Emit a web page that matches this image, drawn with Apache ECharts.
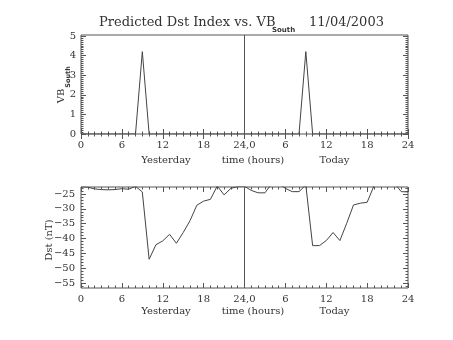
<!DOCTYPE html>
<html><head><meta charset="utf-8">
<script src="https://cdn.jsdelivr.net/npm/echarts@6/dist/echarts.min.js"></script>
<style>html,body{margin:0;padding:0;background:#fff}#c{width:453px;height:340px}</style>
</head><body><div id="c"></div>
<script>
// ---- data ----
const hours = [0,1,2,3,4,5,6,7,8,9,10,11,12,13,14,15,16,17,18,19,20,21,22,23,24,
  25,26,27,28,29,30,31,32,33,34,35,36,37,38,39,40,41,42,43,44,45,46,47,48];
const vbSouth = [0,0,0,0,0,0,0,0,0,4.2,0,0,0,0,0,0,0,0,0,0,0,0,0,0,0,
  0,0,0,0,0,0,0,0,4.2,0,0,0,0,0,0,0,0,0,0,0,0,0,0,0];
const dst = [-22.6,-22.7,-23.3,-23.5,-23.6,-23.5,-23.2,-23.4,-22.4,-24.3,-47.0,-42.1,-40.8,-38.6,-41.6,-38.0,-34.0,-28.8,-27.4,-26.8,-22.3,-25.3,-23.1,-22.5,-22.4,
  -23.8,-24.6,-24.6,-21.5,-21.5,-23.1,-24.2,-24.2,-22.0,-42.4,-42.4,-40.7,-38.0,-40.7,-34.9,-28.7,-28.1,-27.8,-22.3,-21.0,-21.0,-21.3,-24.2,-24.3];
const xTickLabels = ['0','6','12','18','24,0','6','12','18','24'];
const vbTicks = [0,1,2,3,4,5];
const dstTicks = [-55,-50,-45,-40,-35,-30,-25];
const titleMain = 'Predicted Dst Index vs. VB';
const titleSub = 'South';
const titleDate = '11/04/2003';
const xNameLeft = 'Yesterday', xNameMid = 'time (hours)', xNameRight = 'Today';
const dividerHour = 24;

// ---- helpers ----
function minorVals(lo, hi, step){ const a=[]; for(let v=lo; v<=hi+1e-9; v+=step){ a.push(+v.toFixed(4)); } return a; }
const FONT = 'DejaVu Serif';
const INK = '#333';
const LINE = '#555';

const chart = echarts.init(document.getElementById('c'), null, {renderer:'canvas'});

function xAxes(gridIndex, pos, showLabel){
  return {
    type:'value', gridIndex, position:pos, min:0, max:48, interval:6,
    axisLine:{show:false}, splitLine:{show:false},
    axisTick:{show:true, inside:true, length:5, lineStyle:{color:LINE}},
    minorTick:{show:true, splitNumber:6, length:2.5, lineStyle:{color:LINE}},
    axisLabel:{show:showLabel, margin:6, fontFamily:FONT, fontSize:10, color:INK,
      formatter:v=>xTickLabels[Math.round(v/6)]}
  };
}
function yAxes(gridIndex, pos, min, max, major, minor, showLabel, margin){
  return [{
    type:'value', gridIndex, position:pos, min, max,
    axisLine:{show:false}, splitLine:{show:false},
    axisTick:{show:true, inside:true, length:5, customValues:major, lineStyle:{color:LINE}},
    axisLabel:{show:showLabel, customValues:major, margin, fontFamily:FONT, fontSize:10, color:INK,
      formatter:v=>String(v).replace('-','\u2212')}
  },{
    type:'value', gridIndex, position:pos, min, max,
    axisLine:{show:false}, splitLine:{show:false},
    axisTick:{show:true, inside:true, length:2.5, customValues:minor, lineStyle:{color:LINE}},
    axisLabel:{show:false}
  }];
}

const mark = {silent:true, symbol:['none','none'], label:{show:false},
  lineStyle:{color:LINE, type:'solid', width:1}, data:[{xAxis:dividerHour}]};

const option = {
  animation:false,
  backgroundColor:'#fff',
  grid:[
    {left:81, right:45, top:35, height:99, show:true, borderColor:LINE, borderWidth:1, backgroundColor:'transparent'},
    {left:81, right:45, top:187, height:101, show:true, borderColor:LINE, borderWidth:1, backgroundColor:'transparent'}
  ],
  xAxis:[ xAxes(0,'bottom',true), xAxes(0,'top',false), xAxes(1,'bottom',true), xAxes(1,'top',false) ],
  yAxis:[
    ...yAxes(0,'left',0,5.05,vbTicks,minorVals(0,5,0.1),true,5),
    ...yAxes(0,'right',0,5.05,vbTicks,minorVals(0,5,0.1),false,5),
    ...yAxes(1,'left',-56.69,-22.64,dstTicks,minorVals(-56,-23,1),true,6),
    ...yAxes(1,'right',-56.69,-22.64,dstTicks,minorVals(-56,-23,1),false,6)
  ],
  series:[
    {type:'line', xAxisIndex:0, yAxisIndex:0, data:hours.map((h,i)=>[h,vbSouth[i]]),
      symbol:'none', lineStyle:{color:'#444', width:1}, markLine:mark},
    {type:'line', xAxisIndex:2, yAxisIndex:4, data:hours.map((h,i)=>[h,dst[i]]),
      symbol:'none', lineStyle:{color:'#444', width:1}, markLine:mark}
  ],
  graphic:[
    {type:'text', left:99, top:16, style:{text:titleMain, font:'13px "DejaVu Serif"', fill:INK}},
    {type:'text', left:272, top:27, style:{text:titleSub, font:'bold 7px "DejaVu Sans"', fill:INK}},
    {type:'text', left:309, top:16, style:{text:titleDate, font:'13px "DejaVu Serif"', fill:INK}},
    {type:'text', x:61, y:96, rotation:Math.PI/2, style:{text:'VB', font:'10px "DejaVu Serif"', fill:INK, align:'center', verticalAlign:'middle'}},
    {type:'text', x:68, y:77, rotation:Math.PI/2, style:{text:'South', font:'bold 6.5px "DejaVu Sans"', fill:INK, align:'center', verticalAlign:'middle'}},
    {type:'text', x:49, y:240, rotation:Math.PI/2, style:{text:'Dst (nT)', font:'10px "DejaVu Serif"', fill:INK, align:'center', verticalAlign:'middle'}},
    {type:'text', x:166, y:160, style:{text:xNameLeft, font:'10px "DejaVu Serif"', fill:INK, align:'center', verticalAlign:'middle'}},
    {type:'text', x:253, y:160, style:{text:xNameMid, font:'10px "DejaVu Serif"', fill:INK, align:'center', verticalAlign:'middle'}},
    {type:'text', x:334.5, y:160, style:{text:xNameRight, font:'10px "DejaVu Serif"', fill:INK, align:'center', verticalAlign:'middle'}},
    {type:'text', x:166, y:311, style:{text:xNameLeft, font:'10px "DejaVu Serif"', fill:INK, align:'center', verticalAlign:'middle'}},
    {type:'text', x:253, y:311, style:{text:xNameMid, font:'10px "DejaVu Serif"', fill:INK, align:'center', verticalAlign:'middle'}},
    {type:'text', x:334.5, y:311, style:{text:xNameRight, font:'10px "DejaVu Serif"', fill:INK, align:'center', verticalAlign:'middle'}}
  ]
};
chart.setOption(option);
</script>
</body></html>
